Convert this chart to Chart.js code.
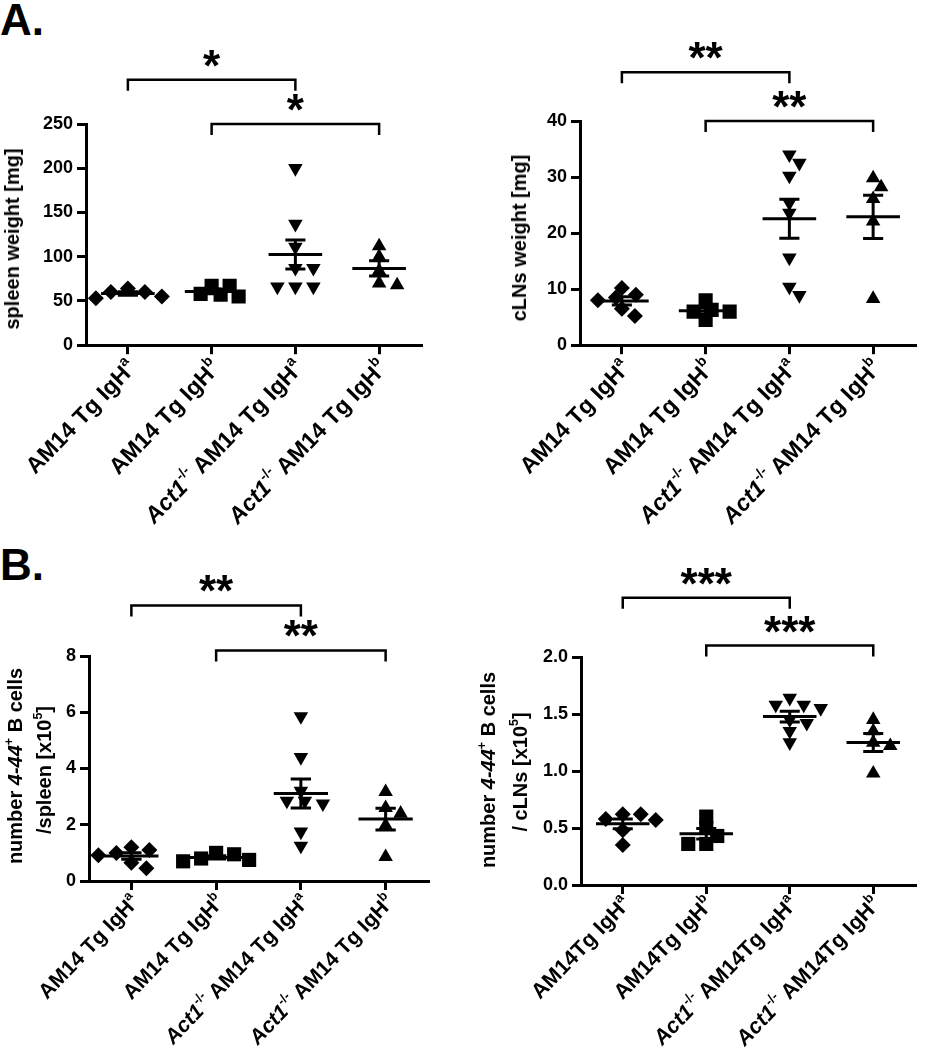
<!DOCTYPE html>
<html><head><meta charset="utf-8">
<script src="https://cdn.jsdelivr.net/npm/chart.js@4.4.1/dist/chart.umd.min.js"></script>
<style>
html,body{margin:0;padding:0;background:#fff;}
body{width:925px;height:1050px;position:relative;overflow:hidden;font-family:"Liberation Sans",Arial,Helvetica,sans-serif;font-weight:bold;color:#000;}
canvas{position:absolute;}
.t{position:absolute;white-space:nowrap;line-height:1;}
.lab{transform-origin:100% 50%;transform:translate(-100%,-50%) rotate(-46deg);}
.ytl{font-size:20px;transform:translate(-50%,-50%) rotate(-90deg);}
.star{font-size:44px;line-height:44px;transform:translateX(-50%);}
sup{font-size:.62em;position:relative;top:-.75em;vertical-align:baseline;line-height:0;}
</style></head><body>
<div class="t" style="left:0;top:-2px;font-size:44px">A.</div>
<div class="t" style="left:0;top:543px;font-size:44px">B.</div>
<script>
// ---------- data ----------
const categoriesA = ["AM14 Tg IgHa", "AM14 Tg IgHb", "Act1-/- AM14 Tg IgHa", "Act1-/- AM14 Tg IgHb"];
const categoriesBLeft = ["AM14 Tg IgHa", "AM14 Tg IgHb", "Act1-/- AM14 Tg IgHa", "Act1-/- AM14 Tg IgHb"];
const categoriesBRight = ["AM14Tg IgHa", "AM14Tg IgHb", "Act1-/- AM14Tg IgHa", "Act1-/- AM14Tg IgHb"];

// A: spleen weight [mg]
const spleenWeightAM14a = [60, 53, 60, 55, 64];
const spleenWeightAM14b = [58, 67, 55, 67, 57];
const spleenWeightAct1a = [200, 137, 111, 87, 87, 66, 66, 66];
const spleenWeightAct1b = [112, 100, 84, 68, 70];
// A: cLNs weight [mg]
const clnWeightAM14a = [8.0, 9.0, 10.2, 8.5, 5.2, 6.5];
const clnWeightAM14b = [6.0, 4.5, 8.0, 6.3, 6.0];
const clnWeightAct1a = [32.5, 34, 30.2, 25.4, 23.6, 15.6, 8.9, 10.4];
const clnWeightAct1b = [29.8, 28.2, 26.1, 22.1, 8.3];
// B: number 4-44+ B cells / spleen [x10^5]
const spleenCellsAM14a = [0.92, 1.1, 1.2, 1.0, 0.65, 0.45];
const spleenCellsAM14b = [0.95, 0.7, 1.0, 0.75, 0.8];
const spleenCellsAct1a = [5.85, 4.4, 3.2, 2.85, 2.75, 2.85, 1.75, 1.25];
const spleenCellsAct1b = [3.17, 2.4, 2.6, 1.98, 0.86];
// B: number 4-44+ B cells / cLNs [x10^5]
const clnCellsAM14a = [0.62, 0.58, 0.62, 0.57, 0.48, 0.35];
const clnCellsAM14b = [0.6, 0.43, 0.5, 0.36, 0.36];
const clnCellsAct1a = [1.64, 1.58, 1.58, 1.55, 1.42, 1.45, 1.35, 1.25];
const clnCellsAct1b = [1.45, 1.35, 1.25, 1.22, 0.98];

// y tick ranges
const yMaxSpleenWeight = 250, yStepSpleenWeight = 50;
const yMaxClnWeight = 40, yStepClnWeight = 10;
const yMaxSpleenCells = 8, yStepSpleenCells = 2;
const yMaxClnCells = 2.0, yStepClnCells = 0.5;

// significance brackets (group indices, bracket level in axis units, label)
const sigSpleenWeight = [{from:0, to:2, level:300, label:"*"}, {from:1, to:3, level:250, label:"*"}];
const sigClnWeight = [{from:0, to:2, level:48.7, label:"**"}, {from:1, to:3, level:40, label:"**"}];
const sigSpleenCells = [{from:0, to:2, level:9.8, label:"**"}, {from:1, to:3, level:8.2, label:"**"}];
const sigClnCells = [{from:0, to:2, level:2.52, label:"***"}, {from:1, to:3, level:2.1, label:"***"}];

// ---------- styling / layout ----------
const FONT = '"Liberation Sans", Arial, Helvetica, sans-serif';
Chart.defaults.font.family = FONT;
const MARKERS = [
  {style:'rectRot', rot:0, r:8},
  {style:'rect', rot:0, r:10},
  {style:'triangle', rot:180, r:8.4},
  {style:'triangle', rot:0, r:8.4}
];
const MEAN_HW = 0.32, CAP_HW = 0.12;
const SW_A = 18, SW_B = 10; // swarm collision ellipse (px)

const panels = [
  {left:0, top:0, w:460, h:360, area:{l:86, r:421, t:124, b:347}, yMax:yMaxSpleenWeight, step:yStepSpleenWeight, dec:0,
   cats:categoriesA, labSize:23, labDy:19, groups:[spleenWeightAM14a, spleenWeightAM14b, spleenWeightAct1a, spleenWeightAct1b], sig:sigSpleenWeight,
   titles:[{html:"spleen weight [mg]", x:12, y:239}]},
  {left:460, top:0, w:465, h:360, area:{l:120, r:460, t:121, b:347}, yMax:yMaxClnWeight, step:yStepClnWeight, dec:0,
   cats:categoriesA, labSize:23, labDy:19, groups:[clnWeightAM14a, clnWeightAM14b, clnWeightAct1a, clnWeightAct1b], sig:sigClnWeight,
   titles:[{html:"cLNs weight [mg]", x:519, y:238}]},
  {left:0, top:520, w:460, h:380, area:{l:89, r:428, t:136, b:361}, yMax:yMaxSpleenCells, step:yStepSpleenCells, dec:0,
   cats:categoriesBLeft, labSize:21, labDy:17, groups:[spleenCellsAM14a, spleenCellsAM14b, spleenCellsAct1a, spleenCellsAct1b], sig:sigSpleenCells,
   titles:[{html:"number <i>4-44</i><sup>+</sup> B cells", x:15, y:766}, {html:"/spleen [x10<sup>5</sup>]", x:44, y:770}]},
  {left:460, top:520, w:465, h:380, area:{l:121, r:462, t:137, b:365}, yMax:yMaxClnCells, step:yStepClnCells, dec:1,
   cats:categoriesBRight, labSize:21.5, labDy:16, groups:[clnCellsAM14a, clnCellsAM14b, clnCellsAct1a, clnCellsAct1b], sig:sigClnCells,
   titles:[{html:"number <i>4-44</i><sup>+</sup> B cells", x:488, y:770}, {html:"/ cLNs [x10<sup>5</sup>]", x:520, y:772}]}
];

function labelHtml(s){
  return s.replace(/^Act1-\/-/, '<i>Act1</i><sup>-/-</sup>').replace(/IgH([ab])$/, 'IgH<sup>$1</sup>');
}
function addText(cls, html, x, y, extra){
  const d = document.createElement('div');
  d.className = 't ' + cls;
  d.innerHTML = html;
  d.style.left = x + 'px'; d.style.top = y + 'px';
  if (extra) Object.assign(d.style, extra);
  document.body.appendChild(d);
  return d;
}
function stats(vals){
  const n = vals.length, m = vals.reduce((a,b)=>a+b,0)/n;
  const sd = Math.sqrt(vals.reduce((a,b)=>a+(b-m)*(b-m),0)/(n-1));
  return {m, se: sd/Math.sqrt(n)};
}

const bracketPlugin = {
  id:'brackets',
  afterDraw(chart){
    const p = chart.options.plugins.brackets.panel;
    const xs = chart.scales.x, ys = chart.scales.y, ctx = chart.ctx;
    ctx.save();
    ctx.strokeStyle = '#000'; ctx.lineWidth = 2.5; ctx.lineJoin = 'miter';
    p.sig.forEach(b => {
      const x1 = xs.getPixelForValue(b.from), x2 = xs.getPixelForValue(b.to), y = ys.getPixelForValue(b.level);
      ctx.beginPath(); ctx.moveTo(x1, y + 11); ctx.lineTo(x1, y); ctx.lineTo(x2, y); ctx.lineTo(x2, y + 11); ctx.stroke();
    });
    ctx.restore();
  }
};

function swarm(chart, vals, gi){
  const xs = chart.scales.x, ys = chart.scales.y;
  const unit = xs.getPixelForValue(1) - xs.getPixelForValue(0);
  const order = vals.map((v,i)=>i).sort((a,b)=>vals[b]-vals[a]);
  const placed = [], out = new Array(vals.length);
  order.forEach(i => {
    const py = ys.getPixelForValue(vals[i]);
    for (let k = 0; k < 400; k++) {
      const dx = k === 0 ? 0 : (k % 2 ? 1 : -1) * Math.ceil(k/2);
      if (placed.every(q => ((dx-q.dx)/SW_A)**2 + ((py-q.py)/SW_B)**2 >= 1)) {
        placed.push({dx, py}); out[i] = gi + dx/unit; break;
      }
    }
  });
  return out;
}

function makePanel(p){
  const cv = document.createElement('canvas');
  cv.width = p.w; cv.height = p.h;
  Object.assign(cv.style, {left:p.left+'px', top:p.top+'px', width:p.w+'px', height:p.h+'px'});
  document.body.appendChild(cv);

  const meanData = [], semData = [];
  p.groups.forEach((vals, gi) => {
    const {m, se} = stats(vals);
    meanData.push({x:gi-MEAN_HW, y:m}, {x:gi+MEAN_HW, y:m}, {x:gi, y:null});
    semData.push({x:gi-CAP_HW, y:m+se}, {x:gi+CAP_HW, y:m+se}, {x:gi, y:null},
                 {x:gi, y:m+se}, {x:gi, y:m-se}, {x:gi, y:null},
                 {x:gi-CAP_HW, y:m-se}, {x:gi+CAP_HW, y:m-se}, {x:gi, y:null});
  });
  const lineDs = (data) => ({data, showLine:true, spanGaps:false, pointRadius:0, borderColor:'#000', borderWidth:3, order:1, borderCapStyle:'butt'});
  const markerDs = p.groups.map((vals, gi) => ({
    data: vals.map(v => ({x:gi, y:v})), showLine:false,
    pointStyle: MARKERS[gi].style, rotation: MARKERS[gi].rot,
    pointRadius: MARKERS[gi].r, pointHoverRadius: MARKERS[gi].r,
    backgroundColor:'#000', borderColor:'#000', borderWidth:0, order:2
  }));

  const tickFont = {family:FONT, weight:'bold', size:18};
  const chart = new Chart(cv, {
    type:'scatter',
    data:{datasets:[lineDs(meanData), lineDs(semData), ...markerDs]},
    plugins:[bracketPlugin],
    options:{
      responsive:false, animation:false, events:[],
      layout:{padding:{top:p.area.t, right:p.w-p.area.r, bottom:0, left:0}},
      plugins:{legend:{display:false}, tooltip:{enabled:false}, brackets:{panel:p}},
      scales:{
        x:{type:'linear', min:-0.5, max:3.5,
           afterBuildTicks: s => { s.ticks = p.cats.map((_, i) => ({value:i})); },
           afterFit: s => { s.height = p.h - p.area.b; },
           ticks:{display:false},
           grid:{display:true, drawOnChartArea:false, drawTicks:true, tickLength:9, color:'#000', lineWidth:3},
           border:{display:true, color:'#000', width:3}},
        y:{type:'linear', min:0, max:p.yMax,
           afterFit: s => { s.width = p.area.l; },
           ticks:{stepSize:p.step, color:'#000', font:tickFont, padding:4, callback: v => Number(v).toFixed(p.dec)},
           grid:{display:true, drawOnChartArea:false, drawTicks:true, tickLength:9, color:'#000', lineWidth:3},
           border:{display:true, color:'#000', width:3}}
      }
    }
  });

  // beeswarm spread computed from the library's scales
  p.groups.forEach((vals, gi) => {
    const xsOff = swarm(chart, vals, gi);
    chart.data.datasets[2+gi].data = vals.map((v, i) => ({x:xsOff[i], y:v}));
  });
  chart.update('none');

  const xs = chart.scales.x, ys = chart.scales.y;
  p.cats.forEach((c, i) => {
    addText('lab', labelHtml(c), p.left + xs.getPixelForValue(i) + 4, p.top + chart.chartArea.bottom + p.labDy, {fontSize: p.labSize + 'px'});
  });
  p.sig.forEach(b => {
    const cx = p.left + (xs.getPixelForValue(b.from) + xs.getPixelForValue(b.to)) / 2;
    const cy = p.top + ys.getPixelForValue(b.level) - 24;
    addText('star', b.label, cx, cy - 12);
  });
  p.titles.forEach(t => addText('ytl', t.html, t.x, t.y));
}
panels.forEach(makePanel);
</script>
</body></html>
